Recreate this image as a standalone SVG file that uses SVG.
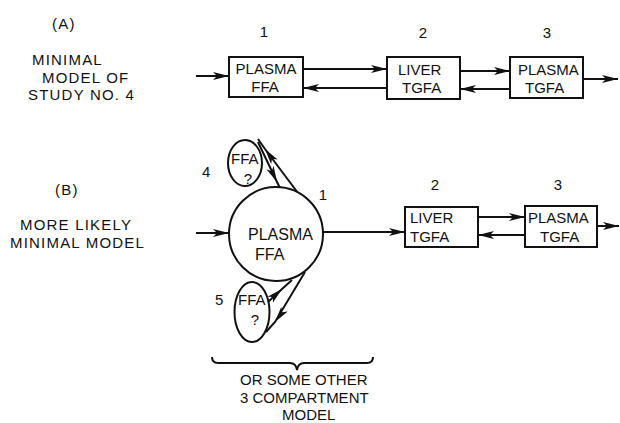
<svg xmlns="http://www.w3.org/2000/svg" width="620" height="423" viewBox="0 0 620 423">
<style>
text{font-family:"Liberation Sans",Arial,sans-serif;font-size:15px;fill:#111}
.lab{letter-spacing:1.2px}
.c{text-anchor:middle}
.box{fill:#fff;stroke:#111;stroke-width:2}
.ln{fill:none;stroke:#111;stroke-width:2}
.ar{marker-end:url(#ah)}
.am{marker-mid:url(#ah)}
</style>
<defs>
<marker id="ah" viewBox="0 0 16 8" markerWidth="16" markerHeight="8" refX="16" refY="4" orient="auto" markerUnits="userSpaceOnUse">
<path d="M0,0 L16,4 L0,8 L4,4 z" fill="#111"/>
</marker>
</defs>
<rect width="620" height="423" fill="#fff"/>

<g id="labels">
<text x="52" y="29" class="lab">(A)</text>
<text x="32" y="65" class="lab">MINIMAL</text>
<text x="42" y="83" class="lab">MODEL OF</text>
<text x="28" y="100" class="lab">STUDY NO. 4</text>
<text x="55" y="195" class="lab">(B)</text>
<text x="20" y="230" class="lab">MORE LIKELY</text>
<text x="10" y="248" class="lab">MINIMAL MODEL</text>
<text x="264" y="37" class="c">1</text>
<text x="423" y="38" class="c">2</text>
<text x="547" y="38" class="c">3</text>
<text x="323" y="200" class="c">1</text>
<text x="435" y="190" class="c">2</text>
<text x="558" y="190" class="c">3</text>
<text x="202" y="177">4</text>
<text x="215" y="305">5</text>
<text x="240" y="385">OR SOME OTHER</text>
<text x="240" y="403">3 COMPARTMENT</text>
<text x="282" y="420">MODEL</text>
</g>

<g id="connectors">
<path class="ln ar" d="M196,76 L229,76"/>
<path class="ln ar" d="M303,69 L387,69"/>
<path class="ln ar" d="M387,88 L303,88"/>
<path class="ln ar" d="M460,71 L510,71"/>
<path class="ln ar" d="M510,89 L460,89"/>
<path class="ln ar" d="M583,79 L618,79"/>
<path class="ln ar" d="M196,233 L229,233"/>
<path class="ln ar" d="M323,232 L405,232"/>
<path class="ln ar" d="M478,217 L525,217"/>
<path class="ln ar" d="M525,235 L478,235"/>
<path class="ln ar" d="M597,226 L619,226"/>
<path class="ln am" d="M298,193 L265,149 L258,139"/>
<path class="ln am" d="M258,142 L277,182 L280,188"/>
<path class="ln am" d="M305,272 L275,322 L266,332"/>
<path class="ln am" d="M268,302 L282,289 L292,280"/>
<path class="ln" d="M212,357 Q212,363 218,363 L290,363 Q296,363 297,370 Q298,363 304,363 L367,363 Q373,363 373,357"/>
</g>

<g id="nodeA1">
<rect class="box" x="229" y="57" width="74" height="40"/>
<text x="266" y="74" class="c">PLASMA</text>
<text x="265" y="92" class="c">FFA</text>
</g>
<g id="nodeA2">
<rect class="box" x="387" y="57" width="73" height="42"/>
<text x="398" y="75">LIVER</text>
<text x="402" y="93">TGFA</text>
</g>
<g id="nodeA3">
<rect class="box" x="510" y="57" width="73" height="41"/>
<text x="518" y="75">PLASMA</text>
<text x="525" y="93">TGFA</text>
</g>
<g id="nodeB1">
<circle class="box" cx="276" cy="234" r="47"/>
<text x="248" y="240" style="font-size:16px">PLASMA</text>
<text x="255" y="260" style="font-size:16px">FFA</text>
</g>
<g id="nodeB4">
<ellipse class="box" cx="245" cy="163" rx="17" ry="23" style="fill:none"/>
<text x="231" y="164">FFA</text>
<text x="248" y="184" class="c">?</text>
</g>
<g id="nodeB5">
<ellipse class="box" cx="252" cy="312" rx="17.5" ry="30" style="fill:none"/>
<text x="238" y="305">FFA</text>
<text x="255" y="325" class="c">?</text>
</g>
<g id="nodeB2">
<rect class="box" x="405" y="207" width="73" height="40"/>
<text x="410" y="223">LIVER</text>
<text x="410" y="242">TGFA</text>
</g>
<g id="nodeB3">
<rect class="box" x="525" y="206" width="72" height="41"/>
<text x="528" y="223">PLASMA</text>
<text x="540" y="242">TGFA</text>
</g>
</svg>
